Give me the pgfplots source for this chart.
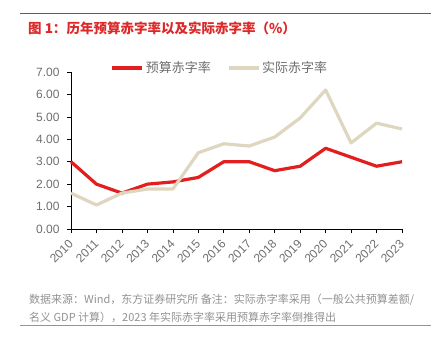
\documentclass[border=0pt]{standalone}
\usepackage{fontspec}
\setmainfont{Liberation Sans}
\newfontfamily\cjk{Noto Sans CJK SC}
\usepackage{pgfplots}
\pgfplotsset{compat=1.18}
\definecolor{budred}{RGB}{226,30,30}
\definecolor{actbeige}{RGB}{222,214,190}
\definecolor{txtgray}{RGB}{110,110,110}
\definecolor{notegray}{RGB}{145,145,145}
\definecolor{titlered}{RGB}{220,40,40}
\definecolor{linered}{RGB}{236,110,110}
\begin{document}
\begin{tikzpicture}[x=1bp,y=1bp]
\path[use as bounding box] (0,0) rectangle (442,-354);
\draw[titlered, line width=0.8bp] (20,-13) -- (431,-13);
\node[anchor=west, text=titlered, inner sep=0pt, font=\cjk\bfseries\fontsize{13.5bp}{15bp}\selectfont] at (28,-28) {图 1：历年预算赤字率以及实际赤字率（\%）};
\begin{axis}[
  at={(71bp,-229bp)}, anchor=south west,
  scale only axis, width=331bp, height=157bp,
  xmin=2010, xmax=2023, ymin=0, ymax=7,
  axis lines*=left,
  axis line style={black, line width=0.8bp},
  xtick={2010,...,2023}, ytick={0,1,...,7},
  tick align=outside, major tick length=4bp,
  tick style={black, line width=0.6bp},
  x tick label style={/pgf/number format/set thousands separator={}, rotate=45, anchor=east, inner sep=0bp, font=\fontsize{12bp}{14bp}\selectfont, text=txtgray},
  y tick label style={/pgf/number format/.cd, fixed, fixed zerofill, precision=2, /tikz/.cd, font=\fontsize{12bp}{14bp}\selectfont, text=txtgray},
  /pgf/number format/assume math mode=true,
  xticklabel shift=9bp, yticklabel shift=4bp,
  clip=false,
  legend columns=2,
  legend style={at={(0.45,1.025)}, anchor=center, draw=none, fill=none,
    font=\cjk\fontsize{13bp}{15bp}\selectfont, text=txtgray,
    /tikz/every even column/.append style={column sep=14bp}},
  legend image code/.code={\draw[#1] (0bp,0bp) -- (30bp,0bp);},
]
\addplot[budred, line width=3.2bp, line join=round] coordinates {
(2010,3.0) (2011,2.0) (2012,1.6) (2013,2.0) (2014,2.1) (2015,2.3) (2016,3.0)
(2017,3.0) (2018,2.6) (2019,2.8) (2020,3.6) (2021,3.2) (2022,2.8) (2023,3.0)};
\addlegendentry{预算赤字率}
\addplot[actbeige, line width=3.2bp, line join=round] coordinates {
(2010,1.6) (2011,1.07) (2012,1.6) (2013,1.78) (2014,1.78) (2015,3.4) (2016,3.8)
(2017,3.7) (2018,4.1) (2019,4.95) (2020,6.2) (2021,3.84) (2022,4.72) (2023,4.46)};
\addlegendentry{实际赤字率}
\end{axis}
\node[anchor=west, inner sep=0pt, text=notegray, font=\cjk\fontsize{11bp}{13bp}\selectfont] at (29,-300) {数据来源：Wind，东方证券研究所 备注：实际赤字率采用（一般公共预算差额/};
\node[anchor=west, inner sep=0pt, text=notegray, font=\cjk\fontsize{11bp}{13bp}\selectfont] at (29,-317) {名义 GDP 计算），2023 年实际赤字率采用预算赤字率倒推得出};
\draw[linered, line width=0.8bp] (20,-325) -- (431,-325);
\end{tikzpicture}
\end{document}
